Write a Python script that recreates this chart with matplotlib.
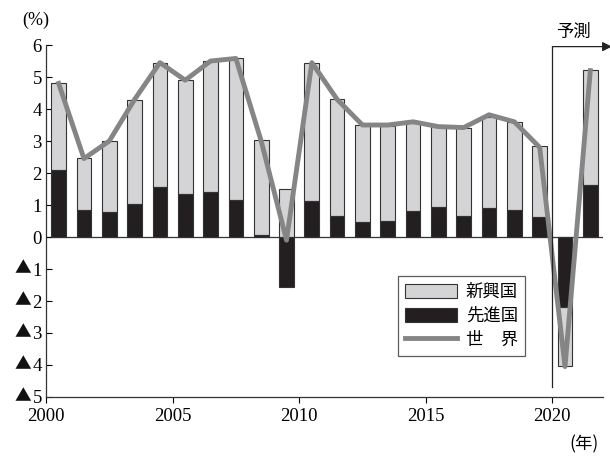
import numpy as np
import matplotlib
matplotlib.use("Agg")
import matplotlib.pyplot as plt
from matplotlib.transforms import blended_transform_factory

plt.rcParams['font.family'] = ['Liberation Serif', 'Noto Sans CJK JP', 'DejaVu Sans']

years = np.arange(2000, 2022)
# 先進国 (advanced economies) contribution
advanced = [2.08, 0.84, 0.77, 1.03, 1.55, 1.33, 1.41, 1.16, 0.05, -1.57, 1.13,
            0.66, 0.46, 0.51, 0.80, 0.93, 0.66, 0.92, 0.84, 0.64, -2.18, 1.63]
# 新興国 (emerging economies) contribution
emerging = [2.73, 1.62, 2.22, 3.26, 3.89, 3.59, 4.08, 4.42, 2.98, 1.49, 4.30,
            3.64, 3.05, 2.97, 2.75, 2.50, 2.74, 2.84, 2.76, 2.21, -1.84, 3.59]
# 世界 (world)
world = [4.8, 2.45, 3.0, 4.3, 5.45, 4.9, 5.5, 5.58, 3.0, -0.1, 5.45,
         4.3, 3.5, 3.5, 3.6, 3.45, 3.42, 3.82, 3.6, 2.8, -4.05, 5.2]
yticks = list(range(-5, 7))

adv = np.array(advanced)
emg = np.array(emerging)
# emerging stacks on top of advanced when both share a sign, else from zero
emg_bottom = np.where(np.sign(emg) == np.sign(adv), adv, 0)

fig = plt.figure(figsize=(6.1, 4.57), dpi=100)
ax = fig.add_axes([0.0754, 0.1313, 0.9131, 0.7702])

x = years + 0.5
b1 = ax.bar(x, emg, 0.58, bottom=emg_bottom, color='#d4d4d6', edgecolor='#333333',
            linewidth=0.8, label='新興国', zorder=2)
b2 = ax.bar(x, adv, 0.58, color='#231f20', edgecolor='#333333', linewidth=0.8,
            label='先進国', zorder=2)
l1, = ax.plot(x, world, color='#858585', linewidth=3.5, label='世　界', zorder=3)

ax.axhline(0, color='#333333', linewidth=0.9, zorder=1)

ax.set_xlim(2000, 2022)
ax.set_ylim(-5, 6)
ax.set_xticks([2000, 2005, 2010, 2015, 2020])
ax.set_yticks(yticks)
ax.set_yticklabels([str(abs(v)) for v in yticks])
ax.tick_params(axis='y', direction='in', length=4, width=0.8, labelsize=13.5, pad=3)
ax.tick_params(axis='x', direction='out', length=4, width=0.8, labelsize=13.5, pad=4)
for s in ['top', 'right']:
    ax.spines[s].set_visible(False)
for s in ['left', 'bottom']:
    ax.spines[s].set_linewidth(0.9)
    ax.spines[s].set_color('#333333')

# triangle marks for negative values
trans = blended_transform_factory(fig.transFigure, ax.transData)
for v in yticks:
    if v < 0:
        ax.text(0.037, v, '▲', transform=trans, fontsize=12, ha='center',
                va='center', family=['Noto Sans CJK JP'], color='#111111')

# forecast marker
ax.plot([2020, 2020], [-4.7, 5.95], color='#222222', linewidth=0.9,
        clip_on=False, zorder=4)
ax.annotate('', xy=(2022.35, 5.95), xytext=(2020, 5.95), annotation_clip=False,
            arrowprops=dict(arrowstyle='-|>', color='#222222', lw=0.9,
                            mutation_scale=14, shrinkA=0, shrinkB=0))
ax.text(2020.85, 6.4, '予測', fontsize=12.5, ha='center', va='center',
        family=['Noto Sans CJK JP'])

fig.text(0.058, 0.955, '(%)', fontsize=13, ha='center', va='center')
fig.text(0.957, 0.028, '(年)', fontsize=12.5, ha='center', va='center',
         family=['Noto Sans CJK JP'])

leg = ax.legend([b1, b2, l1], ['新興国', '先進国', '世　界'],
                loc='upper left', bbox_to_anchor=(0.632, 0.344), borderaxespad=0,
                frameon=True, fancybox=False, edgecolor='#333333',
                handlelength=3.0, handleheight=0.9, borderpad=0.4,
                labelspacing=0.35, handletextpad=0.5,
                prop={'family': ['Noto Sans CJK JP'], 'size': 12.5})
leg.get_frame().set_linewidth(0.9)

fig.savefig('out.png', dpi=100)
